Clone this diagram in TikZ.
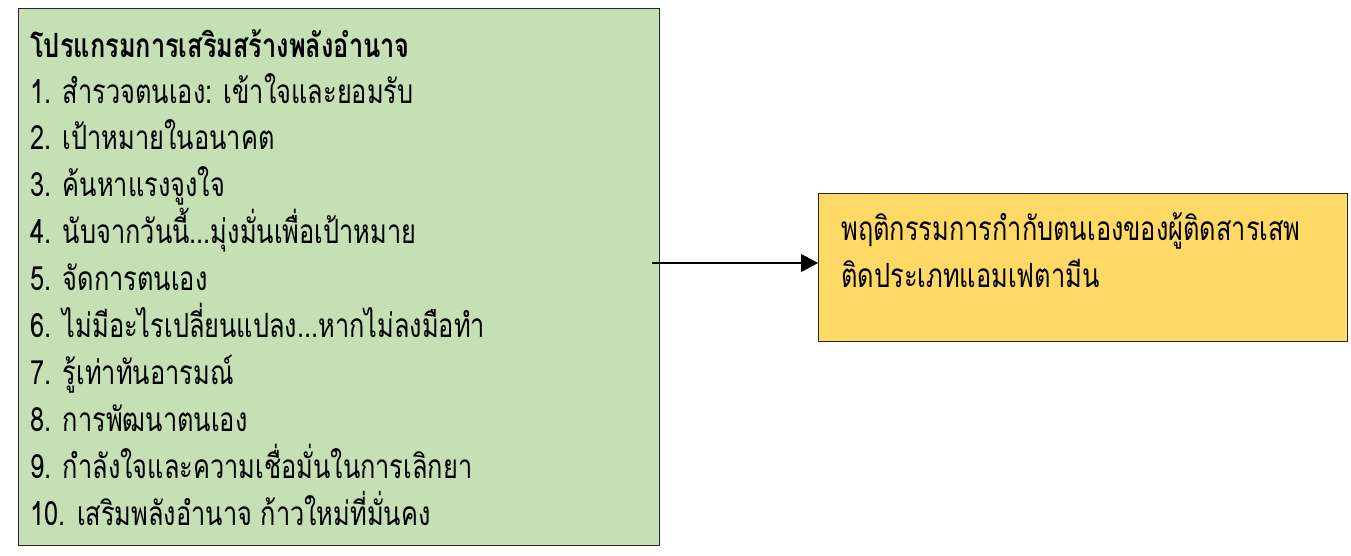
\documentclass[tikz,border=0pt]{standalone}
\usepackage{fontspec}
\newfontfamily\thaifont[Script=Thai,FakeStretch=0.76]{Loma}
\usetikzlibrary{arrows.meta}
\definecolor{progreen}{HTML}{C5E0B4}
\definecolor{behavgold}{HTML}{FFD966}
\newcommand{\thdots}{...}
\tikzstyle{greenbox}=[draw=black!85, line width=0.6pt, fill=progreen, inner sep=0pt]
\tikzstyle{goldbox}=[draw=black!85, line width=0.6pt, fill=behavgold, inner sep=0pt]
\tikzstyle{thaitext}=[inner sep=0pt, anchor=base west, font=\thaifont\fontsize{19}{22}\selectfont]
\tikzstyle{link}=[-{Triangle[length=0.34cm,width=0.36cm]}, line width=0.6pt]

\begin{document}
\begin{tikzpicture}[x=0.02cm,y=-0.02cm]
\useasboundingbox (0,0) rectangle (1351,555);
% boxes
\node[greenbox, anchor=north west, minimum width=12.82cm, minimum height=10.74cm] (prog) at (18,8) {};
\node[goldbox, anchor=north west, minimum width=10.58cm, minimum height=2.96cm] (behav) at (818,193) {};
% program list
\node[thaitext] (title) at (30,57) {\bfseries โปรแกรมการเสริมสร้างพลังอำนาจ};
\foreach \t [count=\n] in {สำรวจตนเอง: เข้าใจและยอมรับ, เป้าหมายในอนาคต, ค้นหาแรงจูงใจ,
	นับจากวันนี้\thdots มุ่งมั่นเพื่อเป้าหมาย, จัดการตนเอง, ไม่มีอะไรเปลี่ยนแปลง\thdots หากไม่ลงมือทำ,
	รู้เท่าทันอารมณ์, การพัฒนาตนเอง, กำลังใจและความเชื่อมั่นในการเลิกยา,
	เสริมพลังอำนาจ ก้าวใหม่ที่มั่นคง} {
	\node[thaitext] (item\n) at (30, 103+46.9*\n-46.9) {\n. \t};
}
% outcome
\node[thaitext] (out1) at (841,240) {พฤติกรรมการกำกับตนเองของผู้ติดสารเสพ};
\node[thaitext] (out2) at (841,287) {ติดประเภทแอมเฟตามีน};
\coordinate (start) at (652,263);
\draw[link] (start) -- (behav.west |- start);
\end{tikzpicture}
\end{document}
